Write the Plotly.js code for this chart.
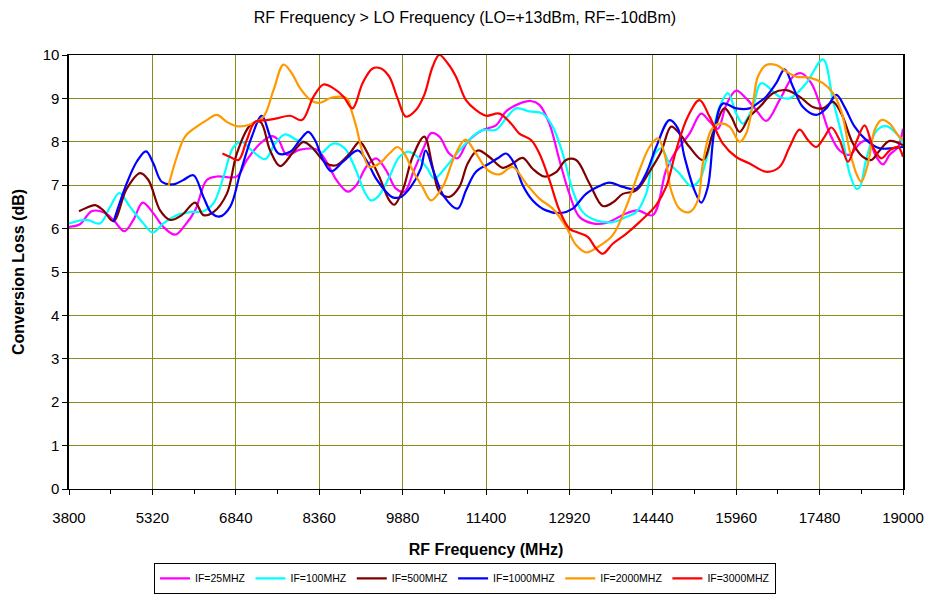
<!DOCTYPE html>
<html><head><meta charset="utf-8">
<script src="https://cdn.plot.ly/plotly-3.0.1.min.js"></script>
<style>html,body{margin:0;padding:0;background:#fff}#chart{width:930px;height:595px}</style>
</head><body><div id="chart"></div>
<script>
const seriesNames = ["IF=25MHZ","IF=100MHZ","IF=500MHZ","IF=1000MHZ","IF=2000MHZ","IF=3000MHZ"];
const seriesColors = ["#FF00FF","#00FFFF","#800000","#0000FF","#FF9900","#FF0000"];
const xTicks = [3800,5320,6840,8360,9880,11400,12920,14440,15960,17480,19000];

const if25_x = [3800,4000,4213,4426,4609,4809,4973,5144,5338,5520,5733,5916,6098,6311,6493,6858,7040,7284,7497,7618,7770,8013,8312,8493,8674,8885,9035,9216,9397,9578,9759,9910,10090,10271,10400,10549,10731,10883,11066,11339,11582,11765,12008,12221,12373,12555,12738,12920,13102,13346,13589,13954,14166,14440,14683,14835,15109,15322,15474,15626,15778,15960,16142,16325,16507,16750,16994,17146,17328,17480,17662,17845,18027,18210,18362,18514,18635,18757,18909,19000];
const if25_y = [6.04,6.1,6.4,6.38,6.2,5.94,6.2,6.6,6.35,6.04,5.86,6.08,6.42,7.12,7.2,7.2,7.58,7.96,8.13,8.04,7.7,7.82,7.82,7.54,7.12,6.85,7.0,7.42,7.62,7.35,6.92,6.85,7.35,7.88,8.2,8.12,7.73,7.62,8.0,8.27,8.38,8.7,8.88,8.94,8.85,8.42,7.58,6.8,6.27,6.12,6.13,6.35,6.42,6.31,7.35,7.73,8.19,8.65,8.47,8.3,8.85,9.18,9.0,8.73,8.48,8.96,9.5,9.58,9.35,8.88,8.2,7.8,7.7,7.96,8.04,7.65,7.48,7.7,7.88,8.3];

const if100_x = [3800,4122,4365,4548,4718,4913,5156,5326,5520,5764,6007,6250,6432,6615,6797,6949,7132,7375,7557,7740,7952,8135,8372,8613,8824,9005,9186,9300,9427,9638,9819,10000,10181,10332,10458,10670,10914,11157,11339,11582,11765,11947,12190,12434,12616,12798,12981,13164,13406,13710,13954,14136,14318,14470,14592,14744,14926,15139,15291,15413,15565,15656,15808,15960,16082,16264,16416,16750,16933,17237,17542,17723,17906,18027,18149,18210,18331,18514,18696,18909,19000];
const if100_y = [6.12,6.2,6.12,6.5,6.82,6.5,6.12,5.91,6.12,6.31,6.38,6.4,6.58,7.19,7.88,8.0,7.8,7.6,7.96,8.17,8.04,7.96,7.73,7.96,7.85,7.42,6.85,6.65,6.73,7.19,7.65,7.77,7.62,7.38,7.15,7.42,7.8,8.12,8.27,8.28,8.54,8.77,8.7,8.65,8.35,7.73,6.88,6.38,6.19,6.15,6.27,6.38,6.8,7.7,7.85,7.5,7.27,6.98,7.12,7.58,8.4,8.8,9.12,8.65,8.42,8.8,9.35,9.04,9.0,9.35,9.9,8.96,8.04,7.27,6.92,6.95,7.6,8.25,8.36,8.15,7.96];

const if500_x = [3982,4122,4274,4426,4609,4852,5095,5247,5460,5642,5855,6098,6250,6432,6676,6858,7101,7284,7466,7648,7892,8071,8220,8493,8674,8915,9096,9277,9457,9638,9729,9880,10061,10275,10427,10549,10731,10914,11066,11248,11461,11704,11886,12069,12251,12464,12677,12859,13042,13285,13528,13710,13893,14136,14379,14592,14774,14926,15109,15352,15534,15747,15869,16021,16203,16386,16629,16872,17115,17358,17542,17723,17876,18088,18270,18422,18574,18757,19000];
const if500_y = [6.4,6.48,6.54,6.42,6.17,6.92,7.28,7.12,6.42,6.2,6.31,6.6,6.31,6.38,6.8,7.73,8.38,8.46,7.8,7.44,7.77,8.0,7.88,7.5,7.46,7.73,8.0,7.65,7.19,6.65,6.55,6.88,7.65,8.12,7.42,6.85,6.73,6.96,7.5,7.8,7.65,7.4,7.5,7.63,7.38,7.2,7.3,7.58,7.58,7.04,6.52,6.6,6.8,6.88,7.31,7.77,8.35,8.19,7.88,7.58,8.19,8.77,8.58,8.23,8.58,8.8,9.12,9.19,9.04,8.8,8.77,8.92,8.65,7.96,7.65,7.58,7.8,8.02,7.92];

const if1000_x = [4609,4852,5034,5204,5338,5490,5703,5885,6068,6250,6402,6554,6736,6919,7132,7314,7466,7618,7831,8010,8161,8282,8432,8583,8794,9066,9216,9397,9578,9699,9850,10030,10211,10300,10458,10640,10883,11035,11218,11461,11613,11765,11917,12069,12251,12494,12768,12981,13224,13467,13650,13893,14136,14318,14501,14744,14896,15018,15200,15322,15443,15565,15717,15960,16203,16386,16507,16690,16842,16994,17176,17419,17602,17784,17936,18118,18331,18574,18757,19000];
const if1000_y = [6.15,7.04,7.54,7.78,7.5,7.08,7.02,7.12,7.23,6.73,6.35,6.28,6.5,7.27,8.12,8.6,8.12,7.73,7.77,8.04,8.23,8.04,7.58,7.32,7.54,7.8,7.58,7.15,6.85,6.72,6.73,6.96,7.38,7.8,7.27,6.73,6.46,6.88,7.31,7.5,7.62,7.73,7.5,7.0,6.65,6.42,6.36,6.46,6.8,6.98,7.06,6.96,6.92,7.27,7.88,8.5,8.31,7.65,6.88,6.6,6.96,8.27,8.88,8.77,8.77,8.92,9.04,9.35,9.67,9.27,8.8,8.62,8.77,9.08,8.8,8.35,8.04,7.85,7.85,7.88];

const if2000_x = [5612,5764,5916,6129,6311,6493,6676,6858,7101,7345,7527,7709,7861,8013,8226,8378,8591,8865,8945,9035,9156,9277,9457,9638,9789,9910,10061,10241,10397,10610,10822,11023,11218,11431,11643,11886,12130,12373,12616,12859,13042,13224,13467,13710,13954,14197,14379,14531,14653,14774,14926,15109,15261,15352,15504,15656,15838,16021,16142,16264,16355,16507,16690,16872,17054,17298,17542,17723,17876,18027,18149,18240,18362,18483,18605,18757,18909,19000];
const if2000_y = [6.98,7.65,8.12,8.35,8.5,8.62,8.46,8.36,8.4,8.58,9.19,9.78,9.58,9.23,8.94,8.9,9.02,9.0,8.73,8.35,7.73,7.42,7.5,7.73,7.88,7.73,7.35,6.96,6.65,6.96,7.65,8.05,7.73,7.35,7.25,7.42,7.04,6.69,6.46,6.04,5.62,5.45,5.6,5.85,6.5,7.35,7.88,8.08,7.73,6.88,6.46,6.38,6.65,7.5,8.27,8.42,8.35,8.0,8.19,8.88,9.5,9.77,9.77,9.62,9.5,9.48,9.35,9.12,8.7,7.8,7.27,7.08,7.5,8.27,8.5,8.42,8.15,8.04];

const if3000_x = [6596,6736,6889,7040,7192,7405,7588,7831,8044,8257,8439,8621,8804,8968,9150,9333,9485,9637,9789,9941,10123,10275,10427,10549,10701,10853,11035,11218,11400,11643,11856,12008,12221,12373,12555,12738,12920,13072,13254,13406,13528,13710,13954,14197,14501,14683,14866,15078,15291,15474,15717,15960,16204,16507,16750,16933,17115,17267,17419,17572,17693,17845,17997,18149,18301,18453,18605,18757,18909,19000];
const if3000_y = [7.73,7.65,7.58,8.04,8.46,8.5,8.54,8.6,8.5,9.04,9.32,9.23,9.04,8.77,9.35,9.69,9.69,9.5,9.0,8.58,8.73,9.08,9.73,10.0,9.81,9.5,8.96,8.73,8.6,8.65,8.42,8.19,8.04,7.73,7.12,6.42,6.0,5.91,5.81,5.54,5.42,5.65,5.88,6.15,6.54,6.96,7.81,8.58,8.96,8.58,7.96,7.65,7.5,7.31,7.42,7.88,8.28,8.04,7.88,8.12,8.33,8.04,7.54,8.0,8.38,7.88,7.62,7.8,7.88,7.65];

const xs = [if25_x,if100_x,if500_x,if1000_x,if2000_x,if3000_x];
const ys = [if25_y,if100_y,if500_y,if1000_y,if2000_y,if3000_y];

const traces = seriesNames.map((n,i)=>({
  x: xs[i], y: ys[i], name: n, type:'scatter', mode:'lines',
  line:{color:seriesColors[i], width:2.2, shape:'spline', smoothing:1}
}));

const gridCol = '#8a8a1a';
const layout = {
  width:930, height:595,
  margin:{l:69, r:27, t:55, b:106, autoexpand:false},
  paper_bgcolor:'#fff', plot_bgcolor:'#fff',
  font:{family:'Liberation Sans, Arial, sans-serif', color:'#000', size:15},
  title:{text:'RF Frequency > LO Frequency (LO=+13dBm, RF=-10dBm)', x:0.5, xanchor:'center', y:0.98, yanchor:'top', font:{size:16}},
  xaxis:{range:[3800,19000], tickvals:xTicks, ticktext:xTicks.map(String), showgrid:true, gridcolor:gridCol, gridwidth:1,
    showline:true, linecolor:'#000', linewidth:1.3, mirror:true, zeroline:false, ticks:'outside', ticklen:5, tickcolor:'#000',
    ticklabelstandoff:10,
    minor:{dtick:760, tick0:3800, ticks:'outside', ticklen:4, tickcolor:'#000', showgrid:false},
    tickfont:{size:15}, title:{text:'<b>RF Frequency (MHz)</b>', font:{size:16}, standoff:18}},
  yaxis:{range:[0,10], dtick:1, showgrid:true, gridcolor:gridCol, gridwidth:1,
    showline:true, linecolor:'#000', linewidth:1.6, mirror:true, zeroline:false, ticks:'outside', ticklen:5, tickcolor:'#000',
    tickfont:{size:15}, title:{text:'<b>Conversion Loss (dB)</b>', font:{size:16}, standoff:14}},
  showlegend:true,
  legend:{orientation:'h', xref:'container', yref:'container', x:0.5, xanchor:'center', y:0.002, yanchor:'bottom',
    bordercolor:'#000', borderwidth:1, font:{size:10.5}, itemwidth:30, tracegroupgap:0, bgcolor:'#fff'}
};
Plotly.newPlot('chart', traces, layout, {staticPlot:true, displayModeBar:false});
</script></body></html>
